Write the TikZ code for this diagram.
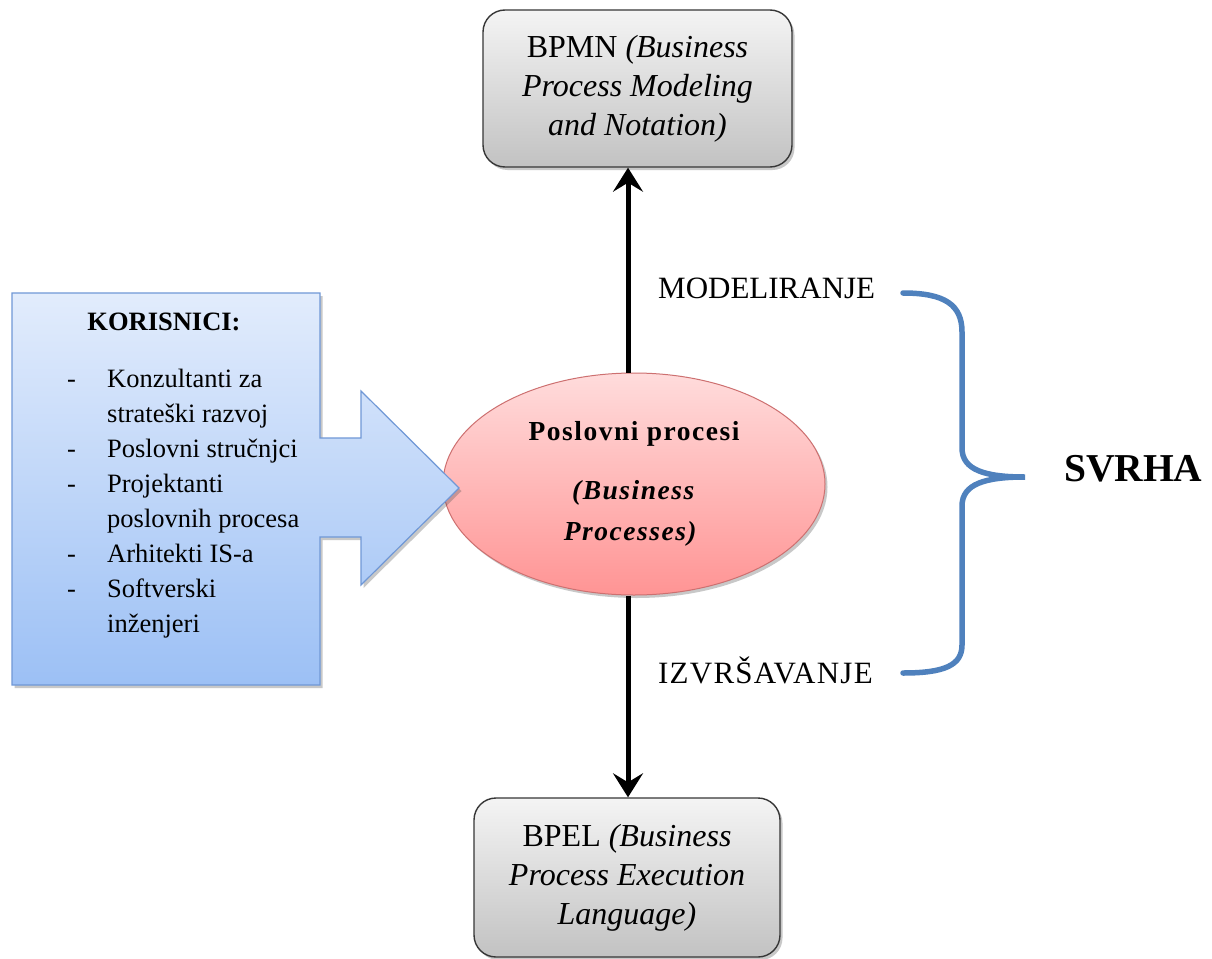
\documentclass[tikz,border=0pt]{standalone}
\usepackage{fontspec}
\setmainfont{Liberation Serif}
\usetikzlibrary{arrows.meta,shadows,shapes.geometric}

\definecolor{boxtop}{RGB}{244,244,244}
\definecolor{boxbot}{RGB}{194,194,194}
\definecolor{boxline}{RGB}{55,55,55}
\definecolor{elltop}{RGB}{255,220,220}
\definecolor{ellbot}{RGB}{255,148,148}
\definecolor{ellline}{RGB}{205,112,112}
\definecolor{usrtop}{RGB}{226,236,252}
\definecolor{usrbot}{RGB}{156,192,245}
\definecolor{usrline}{RGB}{112,152,214}
\definecolor{bracecol}{RGB}{79,129,189}

\tikzset{
  softshadow/.style={drop shadow={shadow xshift=2.5pt, shadow yshift=-3pt, opacity=0.3, fill=black!70}},
  graybox/.style={draw=boxline, line width=1.4pt, rounded corners=22pt,
    top color=boxtop, bottom color=boxbot, softshadow,
    align=center, inner sep=0pt, font=\fontsize{32}{39}\selectfont},
  procell/.style={ellipse, draw=ellline, line width=1pt, top color=elltop, bottom color=ellbot,
    softshadow, inner sep=0pt, align=center,
    font=\fontsize{27.5}{41}\selectfont\bfseries\addfontfeature{LetterSpace=5.5}},
  usrshape/.style={draw=usrline, line width=1.2pt, top color=usrtop, bottom color=usrbot, softshadow},
  bigarrow/.style={line width=5pt, -{Stealth[length=24pt, width=30pt, inset=9pt]}},
  purpose/.style={anchor=base west, inner sep=0pt, font=\fontsize{31}{36}\selectfont},
}

\begin{document}
\begin{tikzpicture}[x=1pt, y=-1pt]
  \useasboundingbox[fill=white] (0,0) rectangle (1212,958);

  % standards that describe the processes
  \node[graybox, minimum width=309pt, minimum height=157pt] (bpmn) at (637.5,88.5)
    {BPMN \textit{(Business}\\\textit{Process Modeling}\\\textit{and Notation)}};
  \node[graybox, minimum width=306pt, minimum height=159pt] (bpel) at (627,877.5)
    {BPEL \textit{(Business}\\\textit{Process Execution}\\\textit{Language)}};

  % central notion
  \node[procell, minimum width=382pt, minimum height=222pt] (proc) at (634,484)
    {Poslovni procesi\\[18pt]\textit{(Business}\\\textit{Processes)}\kern6pt};

  % vertical connectors
  \coordinate (axis) at (628,0);
  \draw[bigarrow] (proc.north -| axis) -- (bpmn.south -| axis);
  \draw[bigarrow] (proc.south -| axis) -- (bpel.north -| axis);

  \node[purpose] (model) at (658,298) {MODELIRANJE};
  \node[purpose] (exec) at (658,683) {\addfontfeature{LetterSpace=4}IZVRŠAVANJE};

  % users: box with an arrow pointing at the processes
  \path[usrshape] (12,293) -- (320,293) -- (320,438) -- (361,438) -- (361,391)
    -- (459,488) -- (361,585) -- (361,537) -- (320,537) -- (320,685) -- (12,685) -- cycle;
  \node[anchor=base, inner sep=0pt, font=\fontsize{26.5}{35}\selectfont\bfseries] (users) at (164,330)
    {KORISNICI:};
  \node[anchor=base west, inner sep=0pt] (userlist) at (67,387)
    {\fontsize{26.5}{35}\selectfont
     \begin{tabular}[t]{@{}p{40pt}@{}l@{}}
       - & Konzultanti za\\
         & strateški razvoj\\
       - & Poslovni stručnjci\\
       - & Projektanti\\
         & poslovnih procesa\\
       - & Arhitekti IS-a\\
       - & Softverski\\
         & inženjeri
     \end{tabular}};

  % purpose brace
  \coordinate (bracetip) at (1025,477);
  \draw[bracecol, line width=5.5pt, line cap=round]
    (903,293) .. controls (945,293) and (962,305) .. (962,332)
    -- (962,448) .. controls (962,470) and (985,477) .. (bracetip)
    .. controls (985,477) and (962,484) .. (962,506)
    -- (962,645) .. controls (962,665) and (945,673) .. (903,673);
  \node[anchor=base west, inner sep=0pt, font=\fontsize{39.5}{44}\selectfont\bfseries] (svrha) at (1064,481) {SVRHA};
\end{tikzpicture}
\end{document}
